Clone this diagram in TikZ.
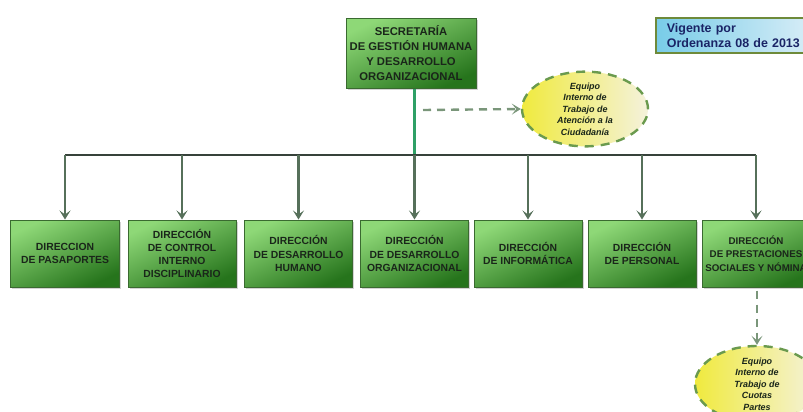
\documentclass[tikz,border=0pt]{standalone}
\usepackage{fontspec}
\setmainfont{Liberation Sans}
\usetikzlibrary{arrows.meta,shapes.geometric,shadows}
\definecolor{gTop}{HTML}{8ED877}
\definecolor{gMid}{HTML}{52AE3E}
\definecolor{gBot}{HTML}{26741C}
\definecolor{gEdge}{HTML}{3A6A30}
\definecolor{gText}{HTML}{1A261A}
\definecolor{connC}{HTML}{56705A}
\definecolor{hlineC}{HTML}{36423A}
\definecolor{topLineC}{HTML}{2FA066}
\definecolor{dashC}{HTML}{7A967A}
\definecolor{ellEdge}{HTML}{6A9A4E}
\definecolor{ellA}{HTML}{F0EA3E}
\definecolor{ellB}{HTML}{F4F2DC}
\definecolor{legA}{HTML}{78CCE8}
\definecolor{legB}{HTML}{DDEFF8}
\definecolor{legEdge}{HTML}{6E8A3A}
\definecolor{legText}{HTML}{1A2466}
\begin{document}
\begin{tikzpicture}[x=1bp,y=-1bp,
  dirbox/.style={rectangle, draw=gEdge, line width=1bp,
    top color=gTop, middle color=gMid, bottom color=gBot, shading angle=25,
    drop shadow={shadow xshift=1.5bp, shadow yshift=-1.5bp, opacity=0.35},
    minimum width=108bp, minimum height=67bp, inner sep=0pt, align=center,
    text=gText, font=\bfseries\fontsize{10.4}{13.3}\selectfont},
  topbox/.style={dirbox, minimum width=130bp, minimum height=70bp,
    font=\bfseries\fontsize{11.3}{15}\selectfont},
  conn/.style={draw=connC, line width=2.4bp, -{Stealth[length=9bp,width=11bp,inset=4bp]}},
  hline/.style={draw=hlineC, line width=2.8bp},
  topline/.style={draw=topLineC, line width=2.8bp},
  dasharrow/.style={draw=dashC, line width=2.4bp, dash pattern=on 8bp off 6bp,
    -{Stealth[length=9bp,width=11bp,inset=4.5bp]}},
  team/.style={ellipse, draw=ellEdge, line width=2.4bp, dash pattern=on 9bp off 7bp,
    left color=ellA, right color=ellB, inner sep=0pt, align=center,
    text=gText, font=\bfseries\itshape\fontsize{9}{11.6}\selectfont},
  legend/.style={rectangle, draw=legEdge, line width=1.8bp,
    left color=legA, right color=legB, anchor=north west,
    text width=142bp, inner xsep=11bp, inner ysep=2bp, minimum height=35bp,
    align=left, text=legText, font=\bfseries\fontsize{12.5}{15}\selectfont}
]
\useasboundingbox (0,0) rectangle (803,411);
\clip (0,0) rectangle (803,411);

% top box
\node[topbox] (top) at (411,53) {SECRETARÍA\\DE GESTIÓN HUMANA\\Y DESARROLLO\\ORGANIZACIONAL};

% legend
\node[legend] (leg) at (655,17) {Vigente por\\Ordenanza 08 de 2013};

% direction boxes
\node[dirbox] (b1) at (65,253.5)  {DIRECCION\\DE PASAPORTES};
\node[dirbox] (b2) at (182,253.5) {DIRECCIÓN\\DE CONTROL\\INTERNO\\DISCIPLINARIO};
\node[dirbox] (b3) at (298.5,253.5) {DIRECCIÓN\\DE DESARROLLO\\HUMANO};
\node[dirbox] (b4) at (414.5,253.5) {DIRECCIÓN\\DE DESARROLLO\\ORGANIZACIONAL};
\node[dirbox] (b5) at (528,253.5) {DIRECCIÓN\\DE INFORMÁTICA};
\node[dirbox] (b6) at (642,253.5) {DIRECCIÓN\\DE PERSONAL};
\node[dirbox, font=\bfseries\fontsize{9.8}{13.3}\selectfont] (b7) at (756,253.5)
  {DIRECCIÓN\\DE PRESTACIONES\\SOCIALES Y NÓMINA};

% team ellipses
\node[team, minimum width=126bp, minimum height=69bp] (e1) at (585,109)
  {Equipo\\Interno de\\Trabajo de\\Atención a la\\Ciudadanía};
\node[team, minimum width=124bp, minimum height=76bp] (e2) at (757,384)
  {Equipo\\Interno de\\Trabajo de\\Cuotas\\Partes};

% connectors
\coordinate (h) at (0,155);
\coordinate (d1) at (423,110);
\draw[topline] (top.south -| b4.north) -- (b4.north |- h);
\draw[hline] (b1.north |- h) -- (b7.north |- h);
\foreach \b in {b1,b2,b3,b4,b5,b6,b7}
  \draw[conn] (\b.north |- h) -- (\b.north);
\draw[dasharrow] (d1) -- (e1.west);
\draw[dasharrow] ([yshift=-3bp]b7.south -| e2.north) -- (e2.north);
\end{tikzpicture}
\end{document}
